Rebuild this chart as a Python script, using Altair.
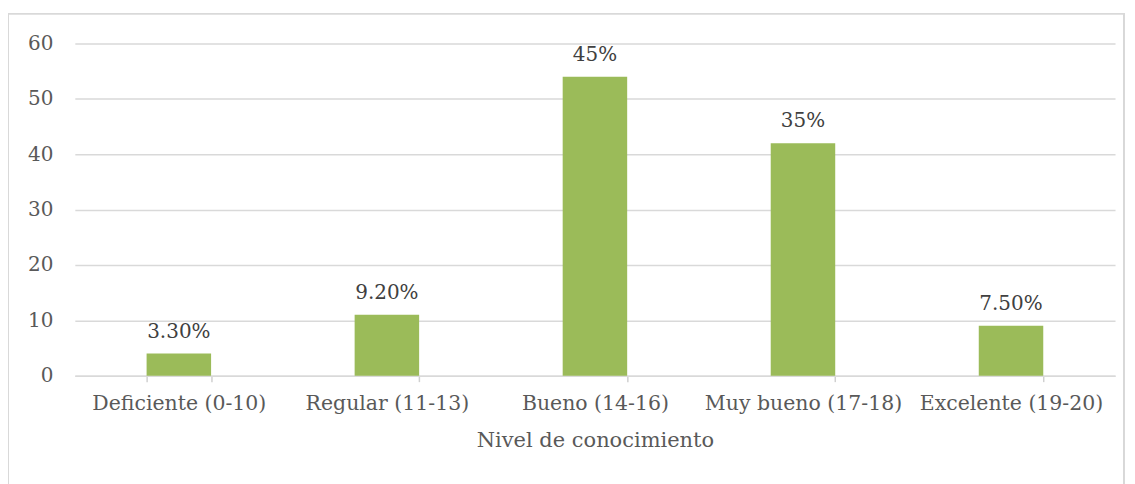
import altair as alt
import pandas as pd

categories = ["Deficiente (0-10)", "Regular (11-13)", "Bueno (14-16)", "Muy bueno (17-18)", "Excelente (19-20)"]
values = [4, 11, 54, 42, 9]
labels = ["3.30%", "9.20%", "45%", "35%", "7.50%"]

df = pd.DataFrame({"cat": categories, "val": values, "lab": labels})

FONT = "DejaVu Serif"
FS = 20

x = alt.X("cat:N", sort=categories, title="Nivel de conocimiento",
          scale=alt.Scale(paddingInner=0.69, paddingOuter=0.345),
          axis=alt.Axis(labelAngle=0, tickBand="extent", tickSize=6, tickColor="#d0d0d0",
                        tickWidth=1.5, domainColor="#d9d9d9", domainWidth=1.5, labelPadding=12,
                        labelFontSize=20.5, labelColor="#595959", titleFontSize=21,
                        titleColor="#595959", titleFontWeight="normal", titlePadding=16,
                        labelFont=FONT, titleFont=FONT, grid=False, labelLimit=400))
y = alt.Y("val:Q", scale=alt.Scale(domain=[0, 60]), title=None,
          axis=alt.Axis(values=[0, 10, 20, 30, 40, 50, 60], domain=False, ticks=False,
                        labelPadding=22, labelFontSize=FS, labelColor="#595959",
                        labelFont=FONT, gridColor="#d9d9d9", gridWidth=1.5))

bars = alt.Chart(df).mark_bar(color="#9BBB59").encode(x=x, y=y)
text = alt.Chart(df).mark_text(baseline="bottom", dy=-12, fontSize=FS, font=FONT,
                               color="#404040").encode(x=alt.X("cat:N", sort=categories), y="val:Q", text="lab:N")
frame = alt.Chart(df).mark_rect(fill=None, stroke="#d9d9d9", strokeWidth=1.5, clip=False).encode(
    x=alt.value(-67), x2=alt.value(1052), y=alt.value(-30), y2=alt.value(520))

chart = alt.layer(frame, bars, text).properties(
    width=1043, height=333,
    autosize=alt.AutoSizeParams(type="none"),
    padding={"left": 67, "top": 35, "right": 12, "bottom": 110},
).configure(font=FONT, background="white").configure_view(stroke=None)

chart.save("out.html", embed_options={"renderer": "svg", "actions": False})
